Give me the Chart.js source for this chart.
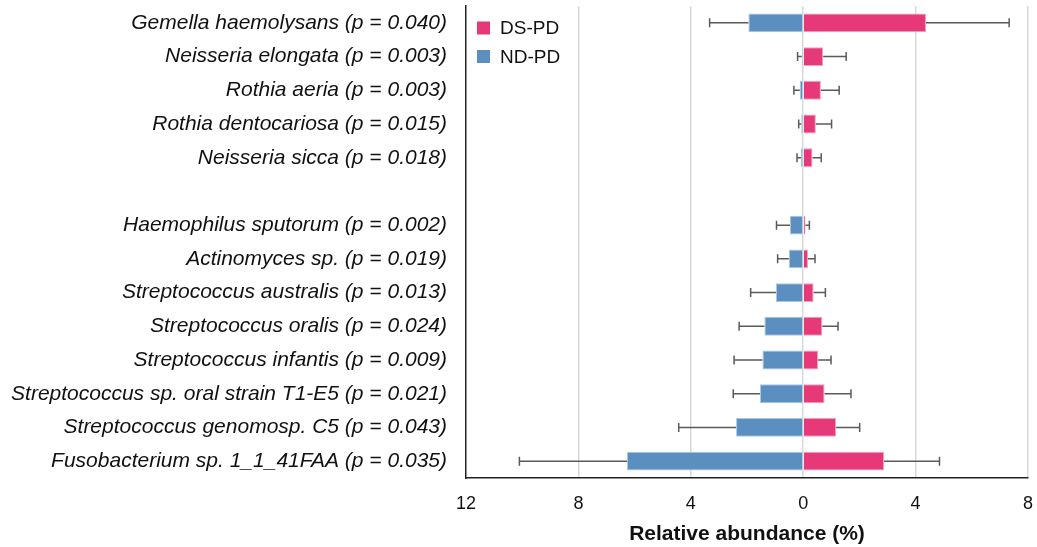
<!DOCTYPE html>
<html>
<head>
<meta charset="utf-8">
<script src="https://cdn.jsdelivr.net/npm/chart.js@4.4.1/dist/chart.umd.min.js"></script>
<style>
  html, body { margin: 0; padding: 0; background: #fff; }
  #wrap { width: 1037px; height: 547px; position: relative; }
</style>
</head>
<body>
<div id="wrap"><canvas id="c" width="1037" height="547"></canvas></div>
<script>
const categories = [
  'Gemella haemolysans (p = 0.040)',
  'Neisseria elongata (p = 0.003)',
  'Rothia aeria (p = 0.003)',
  'Rothia dentocariosa (p = 0.015)',
  'Neisseria sicca (p = 0.018)',
  '',
  'Haemophilus sputorum (p = 0.002)',
  'Actinomyces sp. (p = 0.019)',
  'Streptococcus australis (p = 0.013)',
  'Streptococcus oralis (p = 0.024)',
  'Streptococcus infantis (p = 0.009)',
  'Streptococcus sp. oral strain T1-E5 (p = 0.021)',
  'Streptococcus genomosp. C5 (p = 0.043)',
  'Fusobacterium sp. 1_1_41FAA (p = 0.035)'
];
// DS-PD relative abundance (%) and standard error
const dsValues = [4.37, 0.71, 0.63, 0.45, 0.33, null, 0.08, 0.17, 0.37, 0.68, 0.53, 0.76, 1.17, 2.88];
const dsErrors = [2.96, 0.82, 0.65, 0.56, 0.31, null, 0.14, 0.25, 0.42, 0.56, 0.46, 0.94, 0.84, 1.97];
// ND-PD relative abundance (%) (plotted to the left) and standard error
const ndValues = [1.95, 0.05, 0.12, 0.07, 0.08, null, 0.47, 0.51, 0.97, 1.38, 1.45, 1.54, 2.39, 6.27];
const ndErrors = [1.38, 0.15, 0.21, 0.09, 0.14, null, 0.48, 0.40, 0.90, 0.90, 1.01, 0.95, 2.04, 3.83];
const xTicks = [-12, -8, -4, 0, 4, 8];

const FONT = "'Liberation Sans', Arial, sans-serif";

const errorBarPlugin = {
  id: 'errorBars',
  afterDatasetsDraw(chart) {
    const ctx = chart.ctx;
    const xs = chart.scales.x;
    ctx.save();
    ctx.strokeStyle = '#5a5a5a';
    ctx.lineWidth = 1.5;
    chart.data.datasets.forEach((ds, di) => {
      const meta = chart.getDatasetMeta(di);
      ds.data.forEach((v, i) => {
        const err = ds.errors[i];
        if (v === null || err === null) return;
        const bar = meta.data[i];
        const endVal = v + Math.sign(v) * err;
        const x0 = xs.getPixelForValue(v);
        const x1 = xs.getPixelForValue(endVal);
        const y = bar.y;
        const cap = 4.5;
        ctx.beginPath();
        ctx.moveTo(x0, y); ctx.lineTo(x1, y);
        ctx.moveTo(x1, y - cap); ctx.lineTo(x1, y + cap);
        ctx.stroke();
      });
    });
    ctx.restore();
  }
};

// legend drawn inside the plot area, top-left
const insideLegend = {
  id: 'insideLegend',
  afterDraw(chart) {
    const ctx = chart.ctx;
    const a = chart.chartArea;
    ctx.save();
    ctx.font = "19px " + FONT;
    ctx.textBaseline = 'middle';
    ctx.textAlign = 'left';
    chart.data.datasets.forEach((ds, i) => {
      const cy = a.top + 22 + i * 28.5;
      const bx = a.left + 11;
      ctx.fillStyle = ds.backgroundColor;
      ctx.fillRect(bx, cy - 6.5, 13, 13);
      ctx.fillStyle = '#111';
      ctx.fillText(ds.label, bx + 23, cy + 1);
    });
    ctx.restore();
  }
};

new Chart(document.getElementById('c'), {
  type: 'bar',
  data: {
    labels: categories,
    datasets: [
      {
        label: 'DS-PD',
        data: dsValues,
        errors: dsErrors,
        backgroundColor: '#E6397A',
        borderColor: '#F3A0BE',
        borderWidth: 1,
        barPercentage: 0.56,
        categoryPercentage: 1
      },
      {
        label: 'ND-PD',
        data: ndValues.map(v => v === null ? null : -v),
        errors: ndErrors,
        backgroundColor: '#5A8FC0',
        borderColor: '#A9C6E2',
        borderWidth: 1,
        barPercentage: 0.56,
        categoryPercentage: 1
      }
    ]
  },
  options: {
    indexAxis: 'y',
    responsive: false,
    animation: false,
    devicePixelRatio: 1,
    layout: { padding: { top: 6, right: 0, bottom: 0, left: 0 } },
    plugins: {
      legend: { display: false },
      tooltip: { enabled: false }
    },
    scales: {
      x: {
        stacked: true,
        min: -12,
        max: 8,
        z: 1,
        afterBuildTicks: s => { s.ticks = xTicks.map(v => ({ value: v })); },
        afterFit: s => { s.height = 69; s.paddingRight = 9; s.paddingLeft = 0; },
        ticks: {
          padding: 15,
          color: '#111',
          font: { family: FONT, size: 18 },
          callback: v => String(Math.abs(v))
        },
        grid: {
          drawTicks: false,
          lineWidth: 1.5,
          color: ctx => (ctx.tick && ctx.tick.value === -12) ? 'rgba(0,0,0,0)' : '#d9d9d9'
        },
        border: { display: true, color: '#222', width: 1.5 },
        title: {
          display: true,
          text: 'Relative abundance (%)',
          color: '#111',
          font: { family: FONT, size: 21, weight: 'bold' },
          padding: { top: 2, bottom: 0 }
        }
      },
      y: {
        stacked: true,
        afterFit: s => { s.width = 466; s.paddingTop = 0; s.paddingBottom = 0; },
        grid: { display: false, drawTicks: false },
        border: { display: true, color: '#222', width: 1.5 },
        ticks: {
          padding: 19,
          color: '#111',
          font: { family: FONT, size: 21, style: 'italic' }
        }
      }
    }
  },
  plugins: [errorBarPlugin, insideLegend]
});
</script>
</body>
</html>
